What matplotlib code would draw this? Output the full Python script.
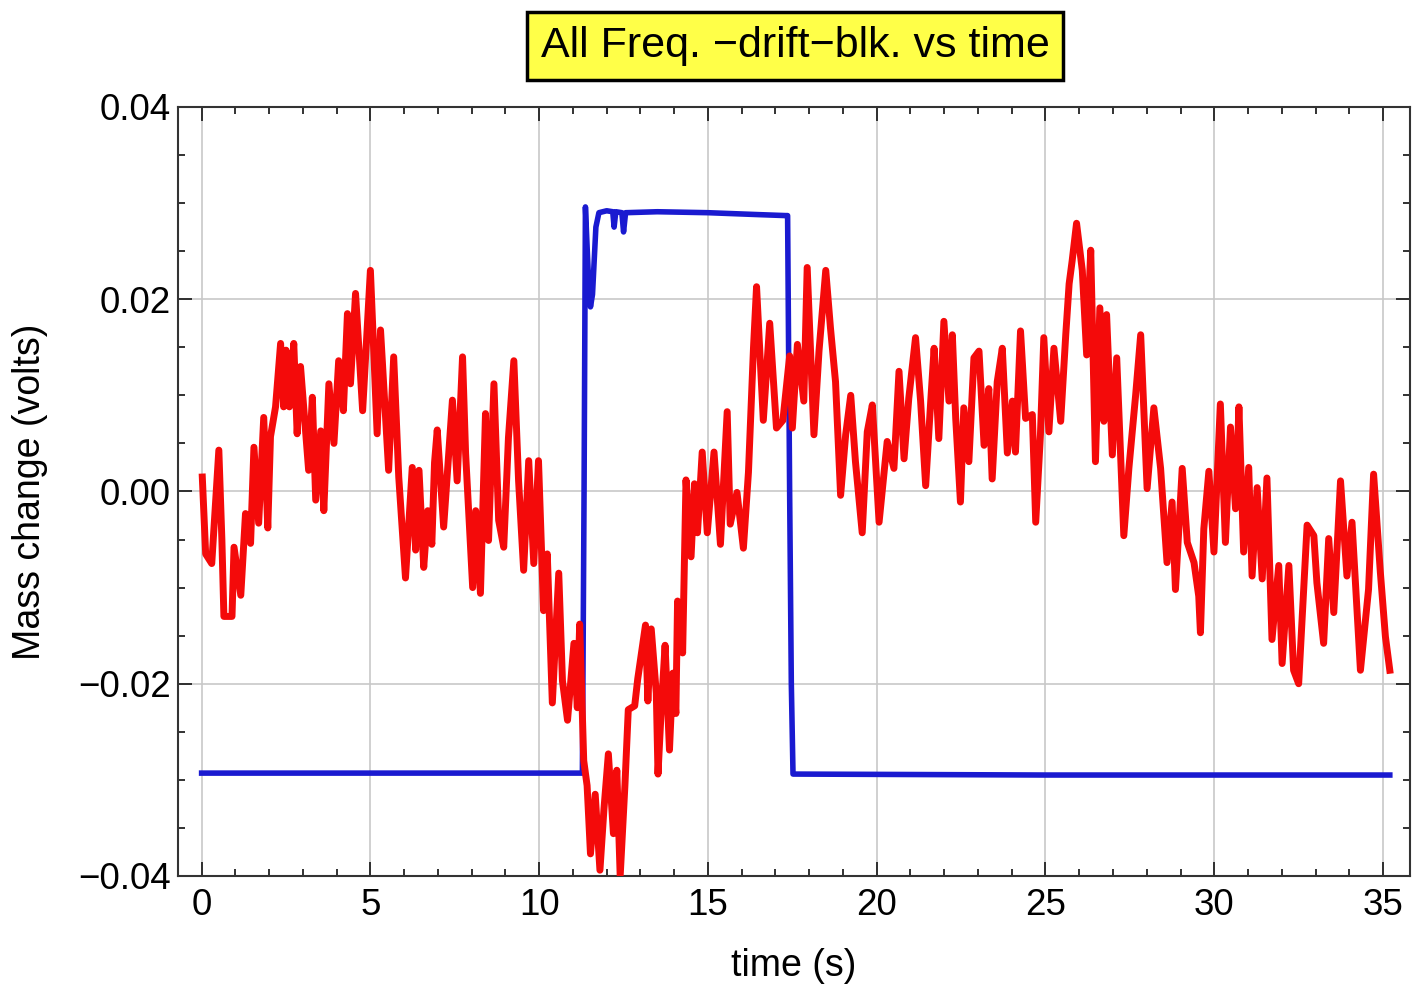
import matplotlib
matplotlib.use("Agg")
from matplotlib import pyplot as plt
from matplotlib.ticker import MultipleLocator, FuncFormatter

# red trace (mass change)
t_red = [0.02, 0.12, 0.30, 0.51, 0.60, 0.66, 0.90, 0.96, 1.16, 1.30, 1.45, 1.55, 1.69, 1.84, 1.96,
         2.04, 2.19, 2.34, 2.43, 2.50, 2.60, 2.73, 2.83, 2.93, 3.17, 3.28, 3.38, 3.53, 3.62, 3.77,
         3.92, 4.06, 4.20, 4.32, 4.41, 4.56, 4.77, 5.00, 5.20, 5.30, 5.54, 5.69, 5.84, 6.04, 6.24,
         6.34, 6.44, 6.58, 6.70, 6.82, 6.90, 6.98, 7.17, 7.43, 7.57, 7.73, 7.82, 8.03, 8.12, 8.26,
         8.41, 8.50, 8.66, 8.80, 8.95, 9.09, 9.25, 9.39, 9.54, 9.69, 9.84, 9.98, 10.13, 10.24, 10.39,
         10.58, 10.69, 10.84, 11.03, 11.13, 11.20, 11.32, 11.42, 11.52, 11.66, 11.80, 11.92, 12.05, 12.20, 12.30,
         12.40, 12.54, 12.64, 12.83, 12.92, 13.03, 13.15, 13.22, 13.32, 13.47, 13.52, 13.61, 13.73, 13.86, 13.96,
         14.05, 14.10, 14.25, 14.35, 14.50, 14.60, 14.69, 14.83, 14.98, 15.18, 15.37, 15.57, 15.66, 15.86, 16.05,
         16.20, 16.35, 16.44, 16.64, 16.83, 17.03, 17.22, 17.42, 17.50, 17.65, 17.84, 17.94, 18.14, 18.29, 18.49,
         18.63, 18.78, 18.93, 19.08, 19.23, 19.37, 19.57, 19.72, 19.87, 20.07, 20.31, 20.51, 20.66, 20.81, 20.95,
         21.15, 21.30, 21.45, 21.60, 21.70, 21.84, 21.99, 22.14, 22.24, 22.34, 22.48, 22.58, 22.73, 22.88, 23.03,
         23.18, 23.32, 23.42, 23.57, 23.72, 23.87, 24.02, 24.11, 24.26, 24.41, 24.61, 24.71, 24.85, 24.95, 25.10,
         25.25, 25.45, 25.60, 25.70, 25.79, 25.92, 26.09, 26.22, 26.34, 26.48, 26.61, 26.73, 26.81, 26.98, 27.11,
         27.32, 27.47, 27.67, 27.82, 28.01, 28.21, 28.41, 28.60, 28.75, 28.85, 29.05, 29.20, 29.40, 29.54, 29.59,
         29.69, 29.84, 29.99, 30.18, 30.33, 30.48, 30.63, 30.73, 30.87, 31.02, 31.12, 31.27, 31.42, 31.56, 31.71,
         31.91, 32.01, 32.21, 32.35, 32.50, 32.65, 32.75, 32.95, 33.04, 33.24, 33.39, 33.54, 33.74, 33.93, 34.08,
         34.33, 34.57, 34.72, 34.92, 35.07, 35.20]
v_red = [0.0015, -0.0065, -0.0075, 0.0043, -0.0050, -0.0130, -0.0130, -0.0058, -0.0108, -0.0023, -0.0054, 0.0046, -0.0033, 0.0077, -0.0038,
         0.0057, 0.0088, 0.0154, 0.0088, 0.0147, 0.0088, 0.0154, 0.0060, 0.0130, 0.0022, 0.0098, -0.0009, 0.0063, -0.0020, 0.0112,
         0.0050, 0.0136, 0.0084, 0.0185, 0.0112, 0.0206, 0.0084, 0.0230, 0.0060, 0.0168, 0.0022, 0.0140, 0.0015, -0.0090, 0.0025,
         -0.0061, 0.0022, -0.0079, -0.0020, -0.0055, 0.0030, 0.0064, -0.0037, 0.0095, 0.0011, 0.0140, 0.0040, -0.0100, -0.0020, -0.0106,
         0.0081, -0.0051, 0.0112, -0.0030, -0.0058, 0.0056, 0.0136, 0.0011, -0.0082, 0.0032, -0.0075, 0.0032, -0.0124, -0.0065, -0.0220,
         -0.0085, -0.0197, -0.0238, -0.0158, -0.0225, -0.0138, -0.0280, -0.0306, -0.0377, -0.0315, -0.0394, -0.0330, -0.0273, -0.0356, -0.0290,
         -0.0400, -0.0306, -0.0227, -0.0223, -0.0195, -0.0168, -0.0139, -0.0218, -0.0143, -0.0210, -0.0294, -0.0231, -0.0160, -0.0269, -0.0189,
         -0.0231, -0.0114, -0.0168, 0.0012, -0.0068, 0.0008, -0.0043, 0.0041, -0.0043, 0.0041, -0.0055, 0.0083, -0.0034, -0.0001, -0.0059,
         0.0020, 0.0150, 0.0213, 0.0074, 0.0175, 0.0066, 0.0074, 0.0141, 0.0066, 0.0153, 0.0094, 0.0233, 0.0059, 0.0146, 0.0230,
         0.0170, 0.0114, -0.0004, 0.0059, 0.0100, 0.0031, -0.0043, 0.0062, 0.0090, -0.0032, 0.0052, 0.0024, 0.0125, 0.0034, 0.0097,
         0.0160, 0.0094, 0.0006, 0.0094, 0.0149, 0.0055, 0.0177, 0.0094, 0.0163, 0.0076, -0.0011, 0.0087, 0.0031, 0.0139, 0.0146,
         0.0048, 0.0107, 0.0013, 0.0114, 0.0149, 0.0040, 0.0094, 0.0041, 0.0167, 0.0076, 0.0080, -0.0032, 0.0059, 0.0160, 0.0062,
         0.0149, 0.0073, 0.0163, 0.0216, 0.0240, 0.0279, 0.0230, 0.0142, 0.0251, 0.0031, 0.0191, 0.0073, 0.0184, 0.0038, 0.0139,
         -0.0046, 0.0024, 0.0100, 0.0163, 0.0003, 0.0087, 0.0024, -0.0074, -0.0011, -0.0102, 0.0024, -0.0053, -0.0074, -0.0109, -0.0147,
         -0.0039, 0.0021, -0.0063, 0.0091, -0.0053, 0.0067, -0.0018, 0.0088, -0.0063, 0.0025, -0.0088, 0.0004, -0.0091, 0.0014, -0.0154,
         -0.0077, -0.0179, -0.0077, -0.0186, -0.0200, -0.0102, -0.0035, -0.0046, -0.0095, -0.0158, -0.0049, -0.0126, 0.0011, -0.0088, -0.0032,
         -0.0186, -0.0102, 0.0018, -0.0084, -0.0151, -0.0186]

# blue trace (block on/off)
t_blue = [0.0, 5.0, 11.28, 11.33, 11.37, 11.45, 11.52, 11.58, 11.68, 11.77, 12.00, 12.18, 12.22, 12.27,
          12.45, 12.50, 12.56, 13.50, 15.00, 16.50, 17.30, 17.36, 17.42, 17.47, 17.52, 25.0, 35.2]
v_blue = [-0.0293, -0.0293, -0.0293, 0.0000, 0.0296, 0.0230, 0.0192, 0.0205, 0.0275, 0.0290, 0.0292, 0.0291, 0.0275, 0.0291,
          0.0290, 0.0270, 0.0290, 0.0291, 0.0290, 0.0288, 0.0287, 0.0287, 0.0000, -0.0200, -0.0294, -0.0295, -0.0295]

plt.rcParams['font.family'] = ['Liberation Sans', 'DejaVu Sans']

fig = plt.figure(figsize=(14.16, 9.84), dpi=100)
ax = fig.add_axes([0.1257, 0.1098, 0.8701, 0.7815])

ax.plot(t_blue, v_blue, color='#1a1ad0', lw=4, zorder=3)
ax.plot(t_red, v_red, color='#f40a0a', lw=5, zorder=4, solid_joinstyle='round')

ax.set_xlim(-0.7, 35.8)
ax.set_ylim(-0.04, 0.04)
ax.xaxis.set_major_locator(MultipleLocator(5))
ax.xaxis.set_minor_locator(MultipleLocator(1))
ax.yaxis.set_major_locator(MultipleLocator(0.02))
ax.yaxis.set_minor_locator(MultipleLocator(0.005))
ax.yaxis.set_major_formatter(FuncFormatter(lambda v, p: ('%.2f' % v).replace('-', '\u2212') if abs(v) > 1e-9 else '0.00'))

ax.tick_params(which='both', direction='in', top=True, right=True, width=1.3, color='#222222')
ax.tick_params(which='major', length=10, labelsize=26.5)
ax.tick_params(axis='x', which='major', pad=9)
ax.tick_params(axis='y', which='major', pad=5)
ax.tick_params(which='minor', length=5)
ax.grid(True, which='major', color='#c8c8c8', lw=1.2)
for s in ax.spines.values():
    s.set_linewidth(1.5)
    s.set_color('#333333')

ax.set_xlabel('time (s)', fontsize=27, labelpad=18)
ax.set_ylabel('Mass change (volts)', fontsize=27, labelpad=22)

fig.text(0.5614, 0.953, 'All Freq. \u2212drift\u2212blk. vs time', fontsize=31,
         ha='center', va='center',
         bbox=dict(boxstyle='square,pad=0.32', facecolor='#ffff48', edgecolor='black', lw=2.5))

fig.savefig('out.png', dpi=100)
